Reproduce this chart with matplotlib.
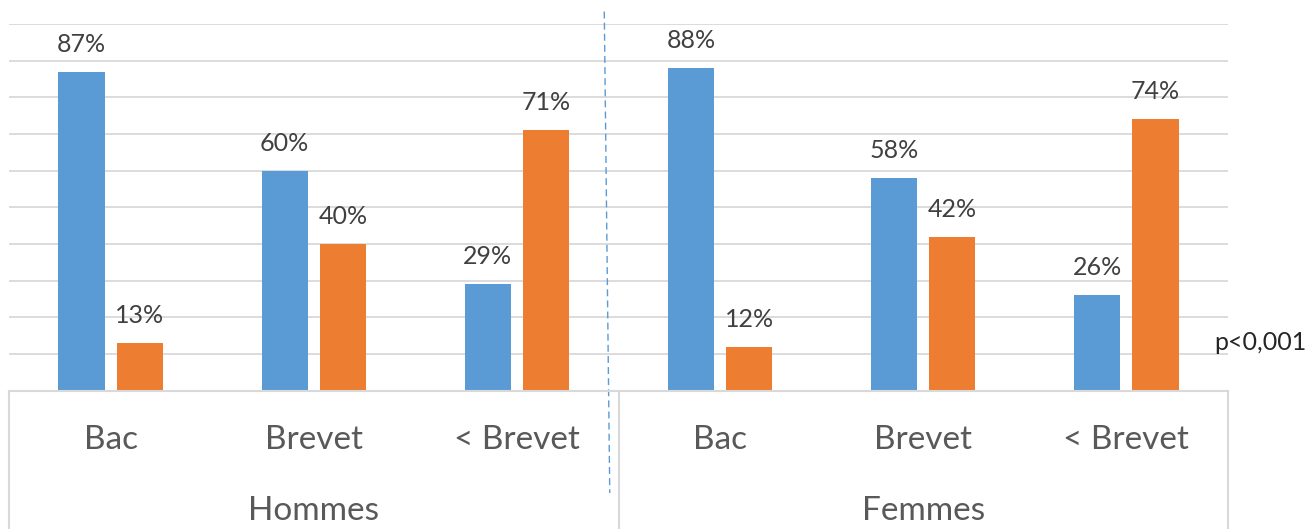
import matplotlib
matplotlib.use('Agg')
import matplotlib.pyplot as plt
import numpy as np

plt.rcParams['font.family'] = ['Lato', 'DejaVu Sans']

# data
groups = ['Hommes', 'Femmes']
levels = ['Bac', 'Brevet', '< Brevet']
blue_vals = [87, 60, 29, 88, 58, 26]
orange_vals = [13, 40, 71, 12, 42, 74]
note = 'p<0,001'

blue = '#5B9BD5'
orange = '#ED7D31'
grid_c = '#D9D9D9'

W, H = 1315, 529
fig = plt.figure(figsize=(W / 100, H / 100), dpi=100)
left, right, top, base = 9, 1228, 24, 390.7
ax = fig.add_axes([left / W, (H - base) / H, (right - left) / W, (base - top) / H])

n = len(blue_vals)
x = np.arange(n)
bw = 0.227
off = 0.143
ax.bar(x - off, np.array(blue_vals) / 100, bw, color=blue, zorder=3)
ax.bar(x + off, np.array(orange_vals) / 100, bw, color=orange, zorder=3)

for xi, v in zip(x, blue_vals):
    ax.annotate(f'{v}%', (xi - off, v / 100), xytext=(0, 14.4), textcoords='offset points',
                ha='center', va='baseline', fontsize=18, color='#404040')
for xi, v in zip(x, orange_vals):
    ax.annotate(f'{v}%', (xi + off, v / 100), xytext=(0, 14.4), textcoords='offset points',
                ha='center', va='baseline', fontsize=18, color='#404040')

ax.set_xlim(-0.5, n - 0.5)
ax.set_ylim(0, 1)
ax.set_yticks(np.arange(0, 1.01, 0.1))
ax.set_xticks([])
ax.tick_params(left=False, labelleft=False)
ax.grid(axis='y', color=grid_c, lw=1.3, zorder=0)
for s in ax.spines.values():
    s.set_visible(False)

# category table below the axis
tr = ax.get_xaxis_transform()
ax.plot([-0.5, n - 0.5], [0, 0], color=grid_c, lw=1.5, transform=tr, clip_on=False, zorder=4)
for xv in [-0.5, 2.5, n - 0.5]:
    ax.plot([xv, xv], [0, -0.4], color=grid_c, lw=1.5, transform=tr, clip_on=False)

for xi in x:
    ax.text(xi, -0.134, levels[xi % 3], transform=tr, ha='center', va='center',
            fontsize=24, color='#595959')
for gi, g in enumerate(groups):
    ax.text(gi * 3 + 1, -0.328, g, transform=tr, ha='center', va='center',
            fontsize=24, color='#595959')

# dashed separator
ax.plot([2.43, 2.457], [1.034, -0.279], color=blue, lw=1, ls=(0, (5, 3)),
        transform=tr, clip_on=False)

fig.text(1214 / W, (H - 350) / H, note, ha='left', va='baseline', fontsize=18, color='#262626')

fig.savefig('out.png', dpi=100)
